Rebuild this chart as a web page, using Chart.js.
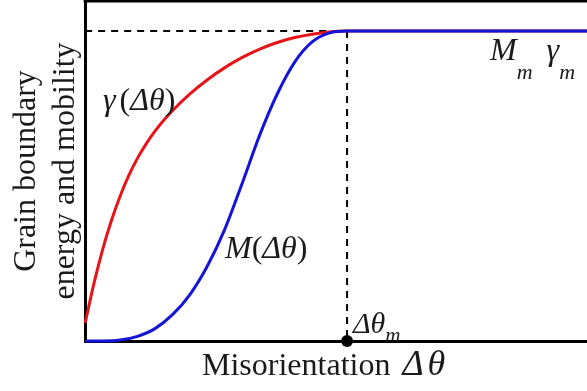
<!DOCTYPE html>
<html>
<head>
<meta charset="utf-8">
<script src="https://cdn.jsdelivr.net/npm/chart.js@4/dist/chart.umd.min.js"></script>
<style>
  body { margin: 0; background: #fff; }
</style>
</head>
<body>
<canvas id="myChart" width="587" height="391"></canvas>
<script>
// values (x = misorientation in degrees, y = normalised)
const thetaM = 15;
const thetaMax = 28.74;
const yMax = 1.097;

const energyX = [0, 0.5, 1, 1.5, 2, 2.5, 3, 3.5, 4, 4.5, 5, 6, 7, 8, 9, 10, 11, 12, 13, 14, 15, 28.74];
const energyY = [0.058, 0.185, 0.295, 0.388, 0.467, 0.534, 0.59, 0.637, 0.677, 0.712, 0.743, 0.797, 0.843, 0.882, 0.915, 0.942, 0.963, 0.979, 0.99, 0.997, 1, 1];

const mobilityX = [0, 1, 2, 3, 4, 5, 6, 7, 8, 9, 10, 11, 12, 13, 14, 15, 28.74];
const mobilityY = [0, 0, 0.003, 0.015, 0.04, 0.085, 0.15, 0.242, 0.361, 0.51, 0.665, 0.797, 0.90, 0.965, 0.994, 1, 1];

// dashed guides and the marker on the axis
const guideHX = [0, thetaM];
const guideHY = [1, 1];
const guideVX = [thetaM, thetaM];
const guideVY = [1, 0];

const yTitle = ['Grain boundary', 'energy and mobility'];

const serif = "'Liberation Serif', 'Times New Roman', serif";
const ink = '#1a1a1a';

const pares = (xs, ys) => xs.map((x, i) => ({ x: x, y: ys[i] }));

// write a run of pieces (italic / upright / subscript) one after the other
function escrever(ctx, x, y, partes) {
    partes.forEach(p => {
        ctx.font = p.font;
        ctx.fillText(p.t, x, y + (p.dy || 0));
        x += ctx.measureText(p.t).width + (p.gap || 0);
    });
}

const textos = {
    id: 'textos',
    afterDraw(chart) {
        const ctx = chart.ctx;
        const area = chart.chartArea;
        const ital = s => `italic ${s}px ${serif}`;
        const reg = s => `${s}px ${serif}`;

        ctx.save();
        // top frame line
        ctx.strokeStyle = '#000';
        ctx.lineWidth = 3;
        ctx.beginPath();
        ctx.moveTo(area.left - 1.5, area.top);
        ctx.lineTo(area.right, area.top);
        ctx.stroke();

        ctx.fillStyle = ink;
        ctx.textBaseline = 'alphabetic';
        ctx.textAlign = 'left';

        escrever(ctx, 103, 110, [
            { t: 'γ', font: ital(32), gap: 4 },
            { t: '(', font: reg(32) },
            { t: 'Δθ', font: ital(32) },
            { t: ')', font: reg(32) }
        ]);
        escrever(ctx, 225, 258, [
            { t: 'M', font: ital(32) },
            { t: '(', font: reg(32) },
            { t: 'Δθ', font: ital(32) },
            { t: ')', font: reg(32) }
        ]);
        escrever(ctx, 353, 333, [
            { t: 'Δθ', font: ital(30) },
            { t: 'm', font: ital(21), dy: 9 }
        ]);
        escrever(ctx, 490, 60, [
            { t: 'M', font: ital(32) },
            { t: 'm', font: ital(22), dy: 19, gap: 14 },
            { t: 'γ', font: ital(32) },
            { t: 'm', font: ital(22), dy: 19 }
        ]);
        escrever(ctx, 202, 375, [
            { t: 'Misorientation', font: reg(32), gap: 12 },
            { t: 'Δ', font: ital(36), gap: 4 },
            { t: 'θ', font: ital(36) }
        ]);
        ctx.restore();
    }
};

const grafico = new Chart(document.getElementById('myChart'), {
    type: 'line',
    data: {
        datasets: [
            {
                label: 'M(Δθ)',
                data: pares(mobilityX, mobilityY),
                borderColor: 'rgb(20,20,215)',
                borderWidth: 3,
                pointRadius: 0,
                cubicInterpolationMode: 'monotone',
                clip: false,
                order: 1
            },
            {
                label: 'γ(Δθ)',
                data: pares(energyX, energyY),
                borderColor: 'rgb(230,20,25)',
                borderWidth: 3,
                pointRadius: 0,
                cubicInterpolationMode: 'monotone',
                clip: false,
                order: 2
            },
            {
                label: 'max',
                data: pares(guideHX, guideHY),
                borderColor: '#000',
                borderWidth: 2,
                borderDash: [7, 6],
                pointRadius: 0,
                order: 3
            },
            {
                label: 'theta m',
                data: pares(guideVX, guideVY),
                borderColor: '#000',
                borderWidth: 2,
                borderDash: [7, 6],
                pointRadius: 0,
                order: 3
            },
            {
                type: 'scatter',
                label: 'dot',
                data: [{ x: thetaM, y: 0 }],
                pointRadius: 6,
                pointBackgroundColor: '#000',
                pointBorderWidth: 0,
                clip: false,
                order: 0
            }
        ]
    },
    options: {
        responsive: false,
        animation: false,
        layout: { autoPadding: false, padding: { top: 1, bottom: 50, left: 0, right: 0 } },
        plugins: {
            legend: { display: false },
            tooltip: { enabled: false }
        },
        scales: {
            x: {
                type: 'linear',
                min: 0,
                max: thetaMax,
                ticks: { display: false },
                grid: { display: false, drawTicks: false },
                border: { color: '#000', width: 3 }
            },
            y: {
                min: 0,
                max: yMax,
                ticks: { display: false },
                grid: { display: false, drawTicks: false },
                border: { color: '#000', width: 3 },
                title: {
                    display: true,
                    text: yTitle,
                    color: ink,
                    font: { family: serif, size: 32, lineHeight: 1.19 },
                    padding: { top: 8, bottom: 1 }
                }
            }
        }
    },
    plugins: [textos]
});
</script>
</body>
</html>
